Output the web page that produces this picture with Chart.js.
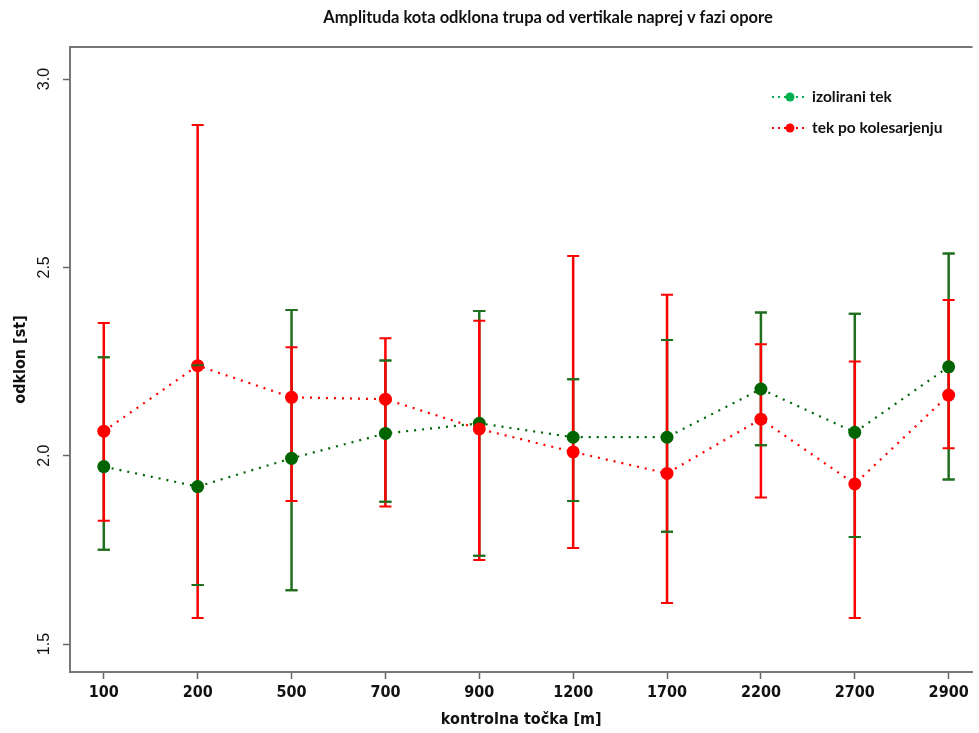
<!DOCTYPE html>
<html lang="sl">
<head>
  <meta charset="UTF-8">
  <title>Amplituda kota odklona trupa</title>
  <style>
    html, body { margin: 0; padding: 0; background: #fff; overflow: hidden; }
  </style>
</head>
<body>
  <canvas id="odklonChart" width="979" height="733"></canvas>

  <script src="https://cdn.jsdelivr.net/npm/chart.js@4.4.1/dist/chart.umd.min.js"></script>
  <script>
    // kontrolne točke [m]
    const categories = ['100', '200', '500', '700', '900', '1200', '1700', '2200', '2700', '2900'];

    // izolirani tek: povprečje in meje
    const izoMean = [1.971, 1.918, 1.993, 2.059, 2.086, 2.049, 2.049, 2.177, 2.062, 2.236];
    const izoLow  = [1.750, 1.657, 1.643, 1.878, 1.734, 1.880, 1.798, 2.028, 1.784, 1.937];
    const izoHigh = [2.261, 2.240, 2.387, 2.253, 2.384, 2.203, 2.307, 2.380, 2.377, 2.537];

    // tek po kolesarjenju
    const kolMean = [2.065, 2.239, 2.155, 2.150, 2.071, 2.010, 1.953, 2.097, 1.925, 2.161];
    const kolLow  = [1.827, 1.569, 1.880, 1.865, 1.723, 1.755, 1.609, 1.889, 1.569, 2.020];
    const kolHigh = [2.352, 2.878, 2.288, 2.312, 2.358, 2.530, 2.427, 2.296, 2.250, 2.413];

    const yTicks = [1.5, 2.0, 2.5, 3.0];

    const narrow = '"Liberation Sans Narrow", "DejaVu Sans Condensed", "Liberation Sans", sans-serif';
    const calib = 'Lato, "Open Sans", sans-serif';

    const GREEN = '#006400';
    const GREEN_BAR = '#1f6f1f';
    const RED = '#ff0000';

    function xy(vals) {
      return vals.map((v, i) => ({ x: i + 1, y: v }));
    }

    function drawBars(chart, low, high, color, withLine, withCaps) {
      const { ctx, scales: { x, y } } = chart;
      ctx.save();
      ctx.strokeStyle = color;
      low.forEach((lo, i) => {
        const px = x.getPixelForValue(i + 1);
        const top = y.getPixelForValue(high[i]);
        const bot = y.getPixelForValue(lo);
        if (withLine) {
          ctx.lineWidth = 2.5;
          ctx.beginPath();
          ctx.moveTo(px, top);
          ctx.lineTo(px, bot);
          ctx.stroke();
        }
        if (withCaps) {
          ctx.lineWidth = 2;
          ctx.beginPath();
          ctx.moveTo(px - 6, top);
          ctx.lineTo(px + 6, top);
          ctx.moveTo(px - 6, bot);
          ctx.lineTo(px + 6, bot);
          ctx.stroke();
        }
      });
      ctx.restore();
    }

    const errorBars = {
      id: 'errorBars',
      beforeDatasetsDraw(chart) {
        drawBars(chart, izoLow, izoHigh, GREEN_BAR, true, true);
        drawBars(chart, kolLow, kolHigh, RED, true, true);
      },
      afterDatasetsDraw(chart) {
        drawBars(chart, izoLow, izoHigh, GREEN_BAR, false, true);
      }
    };

    // naslov, zgornji rob, legenda, oznake na osi y (R slog)
    const rStyle = {
      id: 'rStyle',
      afterDraw(chart) {
        const { ctx, chartArea, scales: { y } } = chart;
        ctx.save();

        ctx.strokeStyle = '#777';
        ctx.lineWidth = 2;
        ctx.beginPath();
        ctx.moveTo(chartArea.left - 1, chartArea.top);
        ctx.lineTo(chartArea.right, chartArea.top);
        ctx.stroke();

        ctx.fillStyle = '#111';
        ctx.font = 'bold 16.5px ' + calib;
        ctx.textAlign = 'center';
        ctx.textBaseline = 'middle';
        ctx.fillText('Amplituda kota odklona trupa od vertikale naprej v fazi opore', 548, 18);

        ctx.font = '16px "Liberation Sans", Arial, sans-serif';
        yTicks.forEach(v => {
          ctx.save();
          ctx.translate(45, y.getPixelForValue(v));
          ctx.rotate(-Math.PI / 2);
          ctx.fillText(v.toFixed(1), 0, 0);
          ctx.restore();
        });

        const items = [
          { text: 'izolirani tek', color: '#00b050', y: 97 },
          { text: 'tek po kolesarjenju', color: RED, y: 128 }
        ];
        items.forEach(it => {
          ctx.strokeStyle = it.color;
          ctx.fillStyle = it.color;
          ctx.lineWidth = 2;
          ctx.setLineDash([2, 4]);
          ctx.beginPath();
          ctx.moveTo(772, it.y);
          ctx.lineTo(808, it.y);
          ctx.stroke();
          ctx.setLineDash([]);
          ctx.beginPath();
          ctx.arc(790, it.y, 4.5, 0, Math.PI * 2);
          ctx.fill();
          ctx.fillStyle = '#111';
          ctx.font = 'bold 15.5px ' + calib;
          ctx.textAlign = 'left';
          ctx.fillText(it.text, 812, it.y);
        });

        ctx.restore();
      }
    };

    new Chart(document.getElementById('odklonChart'), {
      type: 'line',
      data: {
        datasets: [{
          label: 'izolirani tek',
          data: xy(izoMean),
          borderColor: GREEN,
          backgroundColor: GREEN,
          borderDash: [2, 6],
          borderWidth: 2.2,
          pointRadius: 6.5,
          pointBorderWidth: 0,
          pointBackgroundColor: GREEN,
          fill: false,
          order: 2
        }, {
          label: 'tek po kolesarjenju',
          data: xy(kolMean),
          borderColor: RED,
          backgroundColor: RED,
          borderDash: [2, 6],
          borderWidth: 2.2,
          pointRadius: 6.5,
          pointBorderWidth: 0,
          pointBackgroundColor: RED,
          fill: false,
          order: 1
        }]
      },
      options: {
        responsive: false,
        animation: false,
        layout: { padding: { top: 47, left: 0, right: 0, bottom: 0 } },
        plugins: {
          legend: { display: false },
          tooltip: { enabled: false }
        },
        scales: {
          x: {
            type: 'linear',
            min: 0.64,
            max: 10.254,
            afterBuildTicks: s => { s.ticks = categories.map((c, i) => ({ value: i + 1 })); },
            afterFit: s => { s.height = 61; },
            ticks: {
              autoSkip: false,
              maxRotation: 0,
              padding: 4,
              color: '#111',
              font: { family: narrow, size: 16, weight: 'bold' },
              callback: v => categories[Math.round(v) - 1]
            },
            grid: { drawOnChartArea: false, drawTicks: true, tickLength: 7, color: '#666', tickWidth: 1.5 },
            border: { display: true, color: '#777', width: 2 },
            title: {
              display: true,
              text: 'kontrolna točka [m]',
              color: '#111',
              font: { family: narrow, size: 16, weight: 'bold' },
              padding: { top: 0, bottom: 4 }
            }
          },
          y: {
            type: 'linear',
            min: 1.4257,
            max: 3.085,
            afterBuildTicks: s => { s.ticks = yTicks.map(v => ({ value: v })); },
            afterFit: s => { s.width = 70; },
            ticks: { callback: () => '', padding: 0 },
            grid: { drawOnChartArea: false, drawTicks: true, tickLength: 7, color: '#666', tickWidth: 1.5 },
            border: { display: true, color: '#777', width: 2 },
            title: {
              display: true,
              text: 'odklon [st]',
              color: '#111',
              font: { family: narrow, size: 16, weight: 'bold' },
              padding: { top: 11, bottom: 0 }
            }
          }
        }
      },
      plugins: [errorBars, rStyle]
    });
  </script>
</body>
</html>
